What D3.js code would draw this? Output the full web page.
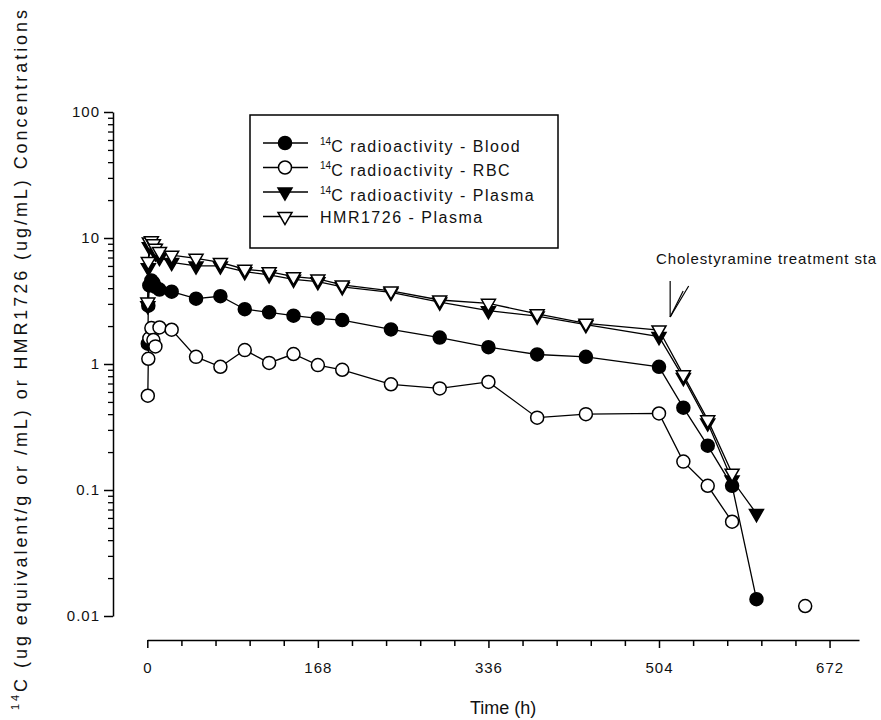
<!DOCTYPE html>
<html>
<head>
<meta charset="utf-8">
<script src="https://cdn.jsdelivr.net/npm/d3@7"></script>
<style>
  body { margin: 0; background: #fff; }
  text { font-family: "Liberation Sans", Arial, sans-serif; fill: #111; }
</style>
</head>
<body>
<div id="chart"></div>
<script>
// Sampling times (h)
const times = [0.5, 1, 2, 4, 6, 8, 12, 24, 48, 72, 96, 120, 144, 168, 192, 240, 288, 336, 384, 432, 504, 528, 552, 576, 600];

const blood = [1.45, 2.9, 4.2, 4.6, 4.4, 4.1, 3.9, 3.75, 3.3, 3.45, 2.72, 2.57, 2.42, 2.3, 2.23, 1.88, 1.62, 1.36, 1.19, 1.14, 0.95, 0.45, 0.225, 0.108, 0.0136];
const rbc = [0.56, 1.1, 1.6, 1.93, 1.55, 1.38, 1.95, 1.87, 1.14, 0.95, 1.29, 1.02, 1.2, 0.98, 0.9, 0.69, 0.64, 0.72, 0.375, 0.4, 0.405, 0.168, 0.108, 0.056, null];
const plasma = [2.9, 5.8, 8.5, 9.0, 8.3, 7.6, 7.0, 6.4, 6.0, 6.0, 5.4, 5.1, 4.7, 4.5, 4.1, 3.7, 3.1, 2.65, 2.4, 2.05, 1.65, 0.78, 0.34, 0.12, 0.065];
const hmr = [3.1, 6.5, 9.3, 9.5, 9.0, 8.3, 7.8, 7.3, 6.9, 6.4, 5.65, 5.4, 4.93, 4.73, 4.24, 3.8, 3.22, 3.03, 2.5, 2.1, 1.86, 0.82, 0.36, 0.136, null];

// RBC point at 648 h, not joined to the line
const rbcLoneTime = [648];
const rbcLoneValue = [0.012];

const xTicks = [0, 168, 336, 504, 672];
const yTicks = [0.01, 0.1, 1, 10, 100];

const legendLabels = ["C radioactivity - Blood", "C radioactivity - RBC", "C radioactivity - Plasma", "HMR1726 - Plasma"];

const width = 881, height = 720;

const svg = d3.select("#chart")
  .append("svg")
  .attr("width", width)
  .attr("height", height);

// Scales
const x = d3.scaleLinear().domain([0, 701]).range([147.3, 859]);
const y = d3.scaleLog().domain([0.01, 100]).range([616, 112]);

// Y axis (log) with minor ticks
const yMinor = [];
[0.01, 0.1, 1, 10].forEach(d => { for (let k = 2; k <= 9; k++) yMinor.push(d * k); });

svg.append("g")
  .attr("transform", "translate(113,0)")
  .call(d3.axisLeft(y).tickValues(yMinor).tickSize(5).tickSizeOuter(0).tickFormat(""))
  .call(g => g.select(".domain").remove())
  .selectAll("line").attr("stroke-width", 1.3);

const yAxis = svg.append("g")
  .attr("transform", "translate(113,0)")
  .call(d3.axisLeft(y).tickValues(yTicks).tickSize(9).tickSizeOuter(0).tickPadding(4)
    .tickFormat(d => d >= 1 ? d3.format("d")(d) : String(d)));
yAxis.selectAll("text")
  .style("font-size", "15px")
  .style("letter-spacing", "1px")
  .style("font-family", "'Liberation Sans', Arial, sans-serif");
yAxis.selectAll("path, line").attr("stroke", "#000").attr("stroke-width", 1.5);

// X axis with minor ticks every 33.6 h
const xMinor = d3.range(0, 700, 33.6).filter(d => xTicks.indexOf(Math.round(d)) < 0);

svg.append("g")
  .attr("transform", "translate(0,640)")
  .call(d3.axisBottom(x).tickValues(xMinor).tickSize(6).tickSizeOuter(0).tickFormat(""))
  .call(g => g.select(".domain").remove())
  .selectAll("line").attr("stroke-width", 1.5);

const xAxis = svg.append("g")
  .attr("transform", "translate(0,640)")
  .call(d3.axisBottom(x).tickValues(xTicks).tickSize(8).tickSizeOuter(0).tickPadding(14));
xAxis.selectAll("text")
  .style("font-size", "15px")
  .style("letter-spacing", "1px")
  .style("font-family", "'Liberation Sans', Arial, sans-serif");
xAxis.selectAll("path, line").attr("stroke", "#000").attr("stroke-width", 1.5);

// Axis titles
svg.append("text")
  .attr("x", (x(0) + x(701)) / 2)
  .attr("y", 714)
  .attr("text-anchor", "middle")
  .style("font-size", "18px")
  .text("Time (h)");

const yTitle = svg.append("text")
  .attr("transform", "translate(24,360) rotate(-90)")
  .attr("text-anchor", "middle")
  .attr("textLength", 700)
  .attr("lengthAdjust", "spacing")
  .style("font-size", "18px");
yTitle.append("tspan").attr("dy", "-0.45em").style("font-size", "11px").text("14");
yTitle.append("tspan").attr("dy", "0.45em").text("C (ug equivalent/g or /mL) or HMR1726 (ug/mL) Concentrations");

// Series
const series = [
  { values: blood, shape: "circle", fill: "#000" },
  { values: rbc, shape: "circle", fill: "#fff" },
  { values: plasma, shape: "triangle", fill: "#000" },
  { values: hmr, shape: "triangle", fill: "#fff" }
];

const line = d3.line()
  .defined(d => d[1] != null)
  .x(d => x(d[0]))
  .y(d => y(d[1]));

const tri = d3.symbol().type(d3.symbolTriangle).size(85);

function marker(g, s) {
  if (s.shape === "circle") {
    g.append("circle").attr("r", 6.5);
  } else {
    g.append("path").attr("d", tri).attr("transform", "rotate(180)");
  }
  g.selectAll("circle, path")
    .attr("fill", s.fill)
    .attr("stroke", "#000")
    .attr("stroke-width", 1.5);
}

series.forEach(s => {
  const pts = times.map((t, i) => [t, s.values[i]]);
  svg.append("path")
    .datum(pts)
    .attr("d", line)
    .attr("fill", "none")
    .attr("stroke", "#000")
    .attr("stroke-width", 1.3);

  svg.selectAll(null)
    .data(pts.filter(d => d[1] != null))
    .enter()
    .append("g")
    .attr("transform", d => `translate(${x(d[0])},${y(d[1])})`)
    .each(function () { marker(d3.select(this), s); });
});

// Lone RBC point
svg.selectAll(null)
  .data(rbcLoneTime.map((t, i) => [t, rbcLoneValue[i]]))
  .enter()
  .append("g")
  .attr("transform", d => `translate(${x(d[0])},${y(d[1])})`)
  .each(function () { marker(d3.select(this), series[1]); });

// Legend
const legend = svg.append("g");
legend.append("rect")
  .attr("x", 250).attr("y", 115)
  .attr("width", 308).attr("height", 133)
  .attr("fill", "#fff")
  .attr("stroke", "#000")
  .attr("stroke-width", 1.5);

series.forEach((s, i) => {
  const ly = 143 + i * 24.5;
  legend.append("line")
    .attr("x1", 263).attr("x2", 308)
    .attr("y1", ly).attr("y2", ly)
    .attr("stroke", "#000").attr("stroke-width", 1.5);
  const g = legend.append("g").attr("transform", `translate(285,${ly})`);
  marker(g, s);
  const t = legend.append("text")
    .attr("x", 320).attr("y", ly + 6)
    .style("font-size", "16px")
    .style("letter-spacing", "1.5px");
  if (i < 3) {
    t.append("tspan").attr("dy", "-0.45em").style("font-size", "10px").style("letter-spacing", "0px").text("14");
    t.append("tspan").attr("dy", "0.45em").text(legendLabels[i]);
  } else {
    t.text(legendLabels[i]);
  }
});

// Annotation: treatment start arrow
const tip = [x(515), y(2.36)];
const ends = [[tip[0], tip[1] - 36], [tip[0] + 18.5, tip[1] - 31], [tip[0] + 13, tip[1] - 26]];
ends.forEach(e => {
  svg.append("line")
    .attr("x1", tip[0]).attr("y1", tip[1])
    .attr("x2", e[0]).attr("y2", e[1])
    .attr("stroke", "#000").attr("stroke-width", 1.2);
});

// Text as printed in the original (truncated at the figure edge)
svg.append("text")
  .attr("x", 656)
  .attr("y", 264)
  .style("font-size", "15px")
  .style("letter-spacing", "0.9px")
  .text("Cholestyramine treatment sta");
</script>
</body>
</html>
